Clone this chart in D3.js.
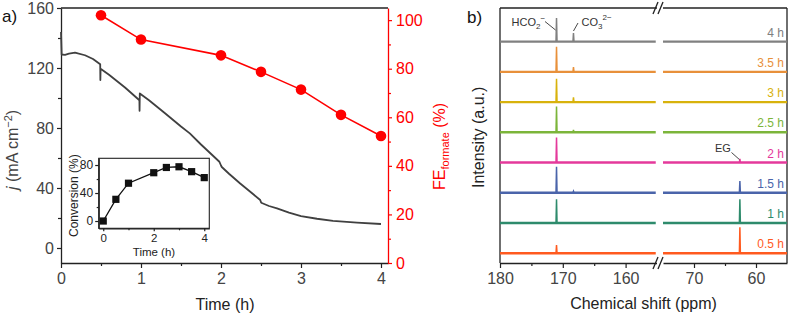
<!DOCTYPE html>
<html><head><meta charset="utf-8">
<script src="https://cdn.jsdelivr.net/npm/d3@7"></script>
<style>body{margin:0;background:#fff}svg{display:block;font-family:Arial,"Liberation Sans",sans-serif}</style>
</head><body><svg id="c" width="791" height="316"></svg>
<script>
// ---------- DATA ----------
// Panel a: current density vs time
const curT = [0, 0.008, 0.05, 0.1, 0.175, 0.3, 0.4, 0.49, 0.492, 0.495, 0.6, 0.8, 0.98, 0.982, 0.985, 1.1, 1.3, 1.5, 1.61, 1.75, 1.85, 1.98, 2.0, 2.01, 2.1, 2.24, 2.4, 2.49, 2.5, 2.51, 2.6, 2.7, 2.85, 3.0, 3.2, 3.4, 3.7, 4.0];
const curJ = [144, 129, 128.8, 129.6, 130.2, 128.5, 126, 122.5, 112, 119.5, 115.5, 107, 98.5, 91.5, 103, 98.5, 89.8, 81, 76.4, 69, 64, 57.5, 55, 54, 49.5, 43, 36, 32, 30.5, 30, 28, 26.4, 23.6, 21.3, 19.5, 18.1, 16.9, 16];
// Panel a: Faradaic efficiency of formate
const feT = [0.5, 1, 2, 2.5, 3, 3.5, 4];
const feV = [102, 92, 85.5, 78.7, 71.4, 61, 52.3];
// Inset: conversion
const convT = [0, 0.5, 1, 2, 2.5, 3, 3.5, 4];
const convV = [0, 31, 54, 69, 76.5, 77.5, 70.5, 62];
// Tick labels
const aXTicks = [0, 1, 2, 3, 4];
const aYLTicks = [0, 40, 80, 120, 160];
const aYRTicks = [0, 20, 40, 60, 80, 100];
const insetXTicks = [0, 2, 4];
const insetYTicks = [0, 40, 80];
const bXTicksLeft = [180, 170, 160];
const bXTicksRight = [70, 60];
// Panel b: NMR spectra
const specLabels = ["0.5 h", "1 h", "1.5 h", "2 h", "2.5 h", "3 h", "3.5 h", "4 h"];
const specColors = ["#ff5a1f", "#2e8b6c", "#4a64aa", "#e4399b", "#7cb53a", "#d8b20c", "#e8903a", "#808080"];
const hco2Height = [0.27, 0.79, 0.86, 0.83, 0.85, 0.77, 0.83, 0.78];
const co3Height  = [0, 0, 0.05, 0, 0.08, 0.16, 0.16, 0.28];
const egHeight   = [0.86, 0.79, 0.39, 0.12, 0, 0, 0, 0];
const hco2Shift = 171.0, co3Shift = 168.3, egShift = 62.6;

// ---------- DRAW ----------
const svg = d3.select("#c");
const dark = "#222", lab = "#444", red = "#ff0000";
const fmt = d3.format("d");

function styleAxis(g, color, labColor, fs) {
  g.selectAll("path.domain").attr("stroke", color).attr("stroke-width", 1.3);
  g.selectAll(".tick line").attr("stroke", color).attr("stroke-width", 1.2);
  g.selectAll(".tick text").attr("fill", labColor).attr("font-size", fs).attr("font-family", "Arial, 'Liberation Sans', sans-serif");
}
function addAxis(axisFn, scale, majors, minors, transform, color, labColor, fs, size, pad, minorSize) {
  const gm = svg.append("g").attr("transform", transform)
    .call(axisFn(scale).tickValues(minors).tickSize(minorSize).tickFormat("").tickSizeOuter(0));
  gm.select("path.domain").remove();
  gm.selectAll(".tick line").attr("stroke", color).attr("stroke-width", 1.2);
  const g = svg.append("g").attr("transform", transform)
    .call(axisFn(scale).tickValues(majors).tickSize(size).tickPadding(pad).tickSizeOuter(0).tickFormat(fmt));
  styleAxis(g, color, labColor, fs);
  return g;
}

// Panel a
const x = d3.scaleLinear().domain([0, 4.0875]).range([61, 388]);
const yL = d3.scaleLinear().domain([-10, 160]).range([263, 8]);
const yR = d3.scaleLinear().domain([0, 105]).range([263, 8]);

svg.append("line").attr("x1", x.range()[0]).attr("x2", x.range()[1]).attr("y1", 8).attr("y2", 8).attr("stroke", dark).attr("stroke-width", 1.3);
addAxis(d3.axisBottom, x, aXTicks, [0.5, 1.5, 2.5, 3.5], "translate(0,263)", dark, lab, 16, 5, 5, 3);
addAxis(d3.axisLeft, yL, aYLTicks, [20, 60, 100, 140], "translate(61,0)", dark, lab, 16, 4, 3, 3);
addAxis(d3.axisRight, yR, aYRTicks, [10, 30, 50, 70, 90], "translate(388,0)", red, red, 16, 4, 4, 3);

// current curve
svg.append("path").datum(curT.map((t, i) => [t, curJ[i]]))
  .attr("fill", "none").attr("stroke", "#404040").attr("stroke-width", 1.8).attr("stroke-linejoin", "round")
  .attr("d", d3.line().x(d => x(d[0])).y(d => yL(d[1])));
// FE
svg.append("path").datum(feT.map((t, i) => [t, feV[i]]))
  .attr("fill", "none").attr("stroke", red).attr("stroke-width", 1.6)
  .attr("d", d3.line().x(d => x(d[0])).y(d => yR(d[1])));
svg.selectAll("circle.fe").data(feT.map((t, i) => [t, feV[i]])).enter().append("circle")
  .attr("cx", d => x(d[0])).attr("cy", d => yR(d[1])).attr("r", 5.3).attr("fill", red);

// axis titles a
svg.append("text").attr("x", 225).attr("y", 310).attr("text-anchor", "middle").attr("font-size", 16).attr("fill", dark).text("Time (h)");
const jt = svg.append("text").attr("transform", "translate(18,190) rotate(-90)").attr("font-size", 16).attr("fill", lab);
jt.append("tspan").attr("font-style", "italic").text("j");
jt.append("tspan").text(" (mA cm");
jt.append("tspan").attr("font-size", 11).attr("dy", -6).text("\u22122");
jt.append("tspan").attr("dy", 6).text(")");
const ft = svg.append("text").attr("transform", "translate(445,190) rotate(-90)").attr("font-size", 16).attr("fill", red);
ft.append("tspan").text("FE");
ft.append("tspan").attr("font-size", 11).attr("dy", 4).text("formate");
ft.append("tspan").attr("dy", -4).text(" (%)");
svg.append("text").attr("x", 2).attr("y", 22).attr("font-size", 17).attr("fill", "#111").text("a)");

// Inset
const xi = d3.scaleLinear().domain([-0.18, 4.2]).range([98.7, 209.3]);
const yi = d3.scaleLinear().domain([-10.4, 89.6]).range([228.3, 158.3]);
svg.append("rect").attr("x", 98.7).attr("y", 158.3).attr("width", 110.6).attr("height", 70).attr("fill", "#fff").attr("stroke", dark).attr("stroke-width", 1.1);
addAxis(d3.axisBottom, xi, insetXTicks, [1, 3], "translate(0,228.3)", dark, dark, 11.5, 3, 2.5, 2);
addAxis(d3.axisLeft, yi, insetYTicks, [20, 60], "translate(98.7,0)", dark, dark, 12, 3.5, 2, 2);
svg.append("path").datum(convT.map((t, i) => [t, convV[i]]))
  .attr("fill", "none").attr("stroke", "#111").attr("stroke-width", 1.3)
  .attr("d", d3.line().x(d => xi(d[0])).y(d => yi(d[1])));
svg.selectAll("rect.cv").data(convT.map((t, i) => [t, convV[i]])).enter().append("rect")
  .attr("x", d => xi(d[0]) - 3.6).attr("y", d => yi(d[1]) - 3.6).attr("width", 7.2).attr("height", 7.2).attr("fill", "#111");
svg.append("text").attr("x", 154).attr("y", 255.5).attr("text-anchor", "middle").attr("font-size", 11.5).attr("fill", dark).text("Time (h)");
svg.append("text").attr("transform", "translate(77.5,237) rotate(-90)").attr("font-size", 12).attr("fill", dark).text("Conversion (%)");

// Panel b
const xL = d3.scaleLinear().domain([180, 155]).range([500, 657]);
const xR = d3.scaleLinear().domain([75, 55]).range([663, 787]);
const yS = d3.scaleLinear().domain([-0.32, 8.11]).range([263, 8]);

// frame
svg.append("line").attr("x1", 500).attr("x2", 500).attr("y1", 8).attr("y2", 263).attr("stroke", dark).attr("stroke-width", 1.3);
svg.append("line").attr("x1", 787).attr("x2", 787).attr("y1", 8).attr("y2", 263).attr("stroke", dark).attr("stroke-width", 1.3);
svg.append("line").attr("x1", 500).attr("x2", 787).attr("y1", 8).attr("y2", 8).attr("stroke", dark).attr("stroke-width", 1.3);
addAxis(d3.axisBottom, xL, bXTicksLeft, [175, 165], "translate(0,263)", dark, lab, 16, 5, 5, 3);
addAxis(d3.axisBottom, xR, bXTicksRight, [65], "translate(0,263)", dark, lab, 16, 5, 5, 3);
// break marks
[8, 263].forEach(yy => {
  svg.append("rect").attr("x", 657).attr("y", yy - 2).attr("width", 6).attr("height", 4).attr("fill", "#fff");
  [655.5, 660.5].forEach(xx => {
    svg.append("line").attr("x1", xx - 2.5).attr("y1", yy + 6).attr("x2", xx + 2.5).attr("y2", yy - 6)
      .attr("stroke", dark).attr("stroke-width", 1.3);
  });
});

// spectra
specLabels.forEach((lb, i) => {
  const col = specColors[i];
  const base = [[180, 0], [155.2, 0]];
  svg.append("path").datum(base).attr("fill", "none").attr("stroke", col).attr("stroke-width", 2.4)
    .attr("d", d3.line().x(d => xL(d[0])).y(d => yS(i + d[1])));
  svg.append("path").datum([[75, 0], [55, 0]]).attr("fill", "none").attr("stroke", col).attr("stroke-width", 2.4)
    .attr("d", d3.line().x(d => xR(d[0])).y(d => yS(i + d[1])));
  const leftPeaks = [[hco2Shift, hco2Height[i]], [co3Shift, co3Height[i]]].filter(p => p[1] > 0);
  leftPeaks.forEach(p => {
    svg.append("path").datum([[p[0] + 0.08, 0], [p[0], p[1]], [p[0] - 0.08, 0]])
      .attr("fill", "none").attr("stroke", col).attr("stroke-width", 1.5)
      .attr("d", d3.line().x(d => xL(d[0])).y(d => yS(i + d[1])));
  });
  if (egHeight[i] > 0) {
    svg.append("path").datum([[egShift + 0.08, 0], [egShift, egHeight[i]], [egShift - 0.08, 0]])
      .attr("fill", "none").attr("stroke", col).attr("stroke-width", 1.5)
      .attr("d", d3.line().x(d => xR(d[0])).y(d => yS(i + d[1])));
  }
  svg.append("text").attr("x", 784).attr("y", yS(i) - 5).attr("text-anchor", "end").attr("font-size", 12).attr("fill", col).text(lb);
});

// annotations
const ann = "#333";
const h = svg.append("text").attr("x", 511.5).attr("y", 26).attr("font-size", 11).attr("fill", ann);
h.append("tspan").text("HCO");
h.append("tspan").attr("font-size", 8).attr("dy", 2.5).text("2");
h.append("tspan").attr("font-size", 8).attr("dy", -8).text("\u2212");
svg.append("line").attr("x1", 545).attr("y1", 21.5).attr("x2", xL(hco2Shift) - 1).attr("y2", 30).attr("stroke", ann).attr("stroke-width", 0.9);
const c = svg.append("text").attr("x", 581.5).attr("y", 26).attr("font-size", 11).attr("fill", ann);
c.append("tspan").text("CO");
c.append("tspan").attr("font-size", 8).attr("dy", 2.5).text("3");
c.append("tspan").attr("font-size", 8).attr("dy", -9).text("2\u2212");
svg.append("line").attr("x1", 578).attr("y1", 23).attr("x2", xL(co3Shift)).attr("y2", 31).attr("stroke", ann).attr("stroke-width", 0.9);
svg.append("text").attr("x", 715).attr("y", 151.5).attr("font-size", 11).attr("fill", ann).text("EG");
svg.append("line").attr("x1", 731.5).attr("y1", 152.5).attr("x2", xR(egShift) - 0.5).attr("y2", 159.5).attr("stroke", ann).attr("stroke-width", 0.9);

svg.append("text").attr("x", 643.5).attr("y", 309).attr("text-anchor", "middle").attr("font-size", 16).attr("fill", dark).text("Chemical shift (ppm)");
svg.append("text").attr("transform", "translate(484,188) rotate(-90)").attr("font-size", 16).attr("fill", dark).text("Intensity (a.u.)");
svg.append("text").attr("x", 467).attr("y", 23).attr("font-size", 17).attr("fill", "#111").text("b)");
</script></body></html>
